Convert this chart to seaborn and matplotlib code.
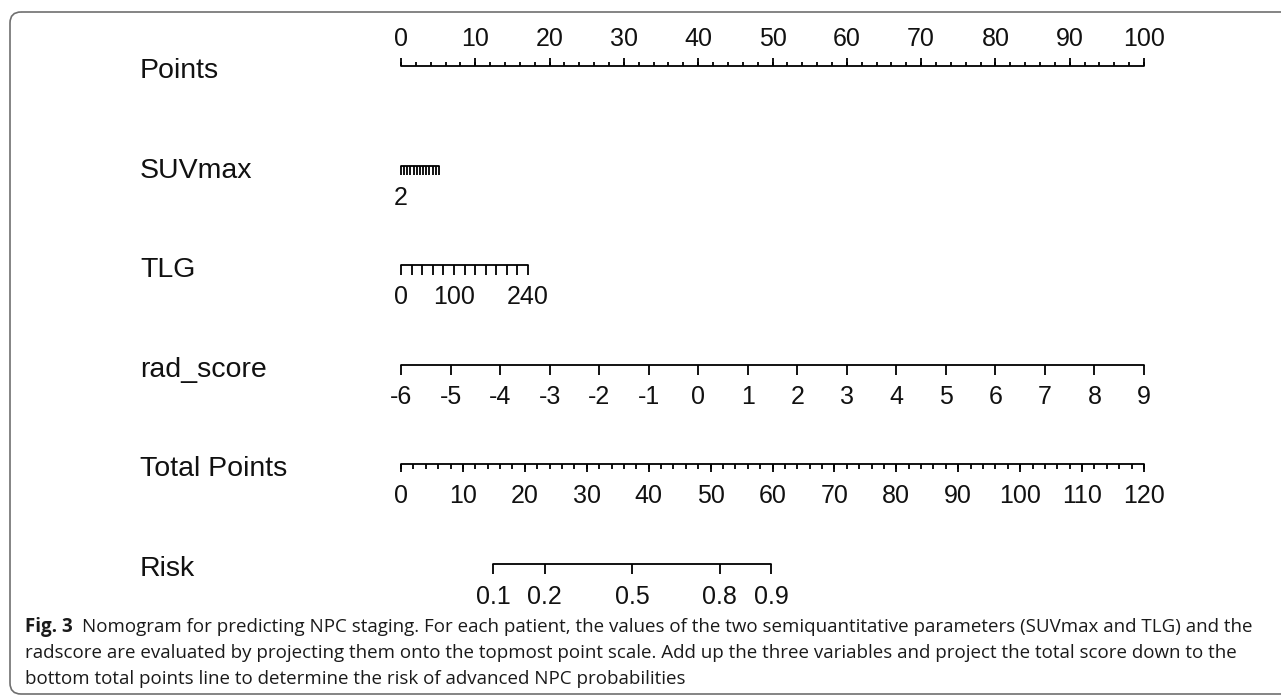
import numpy as np
import pandas as pd
import matplotlib
matplotlib.use("Agg")
import matplotlib.pyplot as plt
from matplotlib.patches import FancyBboxPatch
import seaborn as sns

# nomogram rows (top to bottom)
row_names = ["Points", "SUVmax", "TLG", "rad_score", "Total Points", "Risk"]

# Points scale
points_labels = [0, 10, 20, 30, 40, 50, 60, 70, 80, 90, 100]
points_minor_step = 2

# SUVmax: value range and points it covers
suv_values = [2, 4, 6, 8, 10, 12, 14, 16, 18, 20, 22, 24, 26]
suv_labels = [2]
suv_points = [0.0, 5.1]

# TLG
tlg_values = [0, 20, 40, 60, 80, 100, 120, 140, 160, 180, 200, 220, 240]
tlg_labels = [0, 100, 240]
tlg_points = [0.0, 17.1]

# rad_score
rad_values = [-6, -5, -4, -3, -2, -1, 0, 1, 2, 3, 4, 5, 6, 7, 8, 9]
rad_points = [0.0, 100.0]

# Total points
total_labels = [0, 10, 20, 30, 40, 50, 60, 70, 80, 90, 100, 110, 120]
total_minor_step = 2

# Risk (logistic on total points)
risk_values = [0.1, 0.2, 0.5, 0.8, 0.9]
risk_intercept = -3.66
risk_slope = 0.098

caption_bold = "Fig. 3"
caption_lines = [
    "Nomogram for predicting NPC staging. For each patient, the values of the two semiquantitative parameters (SUVmax and TLG) and the",
    "radscore are evaluated by projecting them onto the topmost point scale. Add up the three variables and project the total score down to the",
    "bottom total points line to determine the risk of advanced NPC probabilities",
]

sns.set_theme(style="white")
plt.rcParams['font.family'] = ['Liberation Sans', 'DejaVu Sans']

W, H = 1281, 695
fig = plt.figure(figsize=(W / 100, H / 100), dpi=100)

# background axes in pixel units for the frame and caption
bg = fig.add_axes([0, 0, 1, 1])
bg.set_xlim(0, W)
bg.set_ylim(H, 0)
bg.axis("off")
frame = FancyBboxPatch((10, 12), 1400, 682, boxstyle="round,pad=0,rounding_size=11",
                       fill=False, edgecolor="#6f6f6f", linewidth=1.2)
bg.add_patch(frame)

# nomogram axes: x in points units, y in row index
ax = fig.add_axes([0, 0, 1, 1])
ax.patch.set_alpha(0)
px0, ppp = 401, 7.43          # pixel of 0 points, pixels per point
row0, rowh = 66, 99.6
ax.set_xlim(-px0 / ppp, (W - px0) / ppp)
ax.set_ylim((H - row0) / rowh, -row0 / rowh)
ax.axis("off")

LW = 1.3
tick_fs = 18
lab_fs = 20.5
px = 1 / rowh  # one pixel in row units


def draw_scale(row, xs, labels_x, labels_txt, direction=1, major_len=10, minor_xs=None,
               minor_len=5, label_off=32):
    xs = np.asarray(xs, dtype=float)
    seg = pd.DataFrame({"x": [xs.min(), xs.max()], "y": [row, row]})
    sns.lineplot(data=seg, x="x", y="y", ax=ax, color="black", linewidth=LW,
                 estimator=None, sort=False)
    ax.vlines(xs, row, row + direction * major_len * px, color="black", linewidth=LW)
    if minor_xs is not None:
        ax.vlines(minor_xs, row, row + direction * minor_len * px, color="black", linewidth=LW)
    for xv, t in zip(labels_x, labels_txt):
        ax.text(xv, row + direction * label_off * px, t, ha="center", va="center",
                fontsize=tick_fs, color="#111111")


def lin(vals, vrange, prange):
    vals = np.asarray(vals, dtype=float)
    return prange[0] + (vals - vrange[0]) / (vrange[1] - vrange[0]) * (prange[1] - prange[0])


# Points
p_minor = np.arange(points_labels[0], points_labels[-1] + 0.1, points_minor_step)
draw_scale(0, points_labels, points_labels, [str(v) for v in points_labels],
           direction=-1, major_len=8, minor_xs=p_minor, minor_len=4, label_off=27.5)

# SUVmax
suv_x = lin(suv_values, (suv_values[0], suv_values[-1]), suv_points)
suv_lx = lin(suv_labels, (suv_values[0], suv_values[-1]), suv_points)
draw_scale(1, suv_x, suv_lx, [str(v) for v in suv_labels], major_len=9)

# TLG
tlg_x = lin(tlg_values, (tlg_values[0], tlg_values[-1]), tlg_points)
tlg_lx = lin(tlg_labels, (tlg_values[0], tlg_values[-1]), tlg_points)
draw_scale(2, tlg_x, tlg_lx, [str(v) for v in tlg_labels], major_len=10)

# rad_score
rad_x = lin(rad_values, (rad_values[0], rad_values[-1]), rad_points)
draw_scale(3, rad_x, rad_x, [str(v) for v in rad_values], major_len=10)

# Total Points (0-120 mapped to the 0-100 point width)
tscale = 100 / total_labels[-1]
t_minor = np.arange(total_labels[0], total_labels[-1] + 0.1, total_minor_step) * tscale
t_x = np.asarray(total_labels) * tscale
draw_scale(4, t_x, t_x, [str(v) for v in total_labels], major_len=8, minor_xs=t_minor,
           minor_len=5)

# Risk
r = np.asarray(risk_values)
risk_tp = (np.log(r / (1 - r)) - risk_intercept) / risk_slope
risk_x = risk_tp * tscale
draw_scale(5, risk_x, risk_x, [str(v) for v in risk_values], major_len=10, label_off=33)

# row labels
for i, name in enumerate(row_names):
    ax.text((140 - px0) / ppp, i + 5 * px, name, ha="left", va="center",
            fontsize=lab_fs, color="#111111")

# caption
cap_fs = 13.5
cap_family = ["Open Sans", "DejaVu Sans"]
base_y = [632, 658, 684]
tb = bg.text(25, base_y[0], caption_bold, fontsize=cap_fs, fontweight="bold",
             family=cap_family, va="baseline", ha="left", color="#1a1a1a")
fig.canvas.draw()
bb = tb.get_window_extent()
bg.text(bb.x1 + 9, base_y[0], caption_lines[0], fontsize=cap_fs, family=cap_family,
        va="baseline", ha="left", color="#1a1a1a")
for y, line in zip(base_y[1:], caption_lines[1:]):
    bg.text(25, y, line, fontsize=cap_fs, family=cap_family, va="baseline", ha="left",
            color="#1a1a1a")

fig.savefig("out.png", dpi=100)
